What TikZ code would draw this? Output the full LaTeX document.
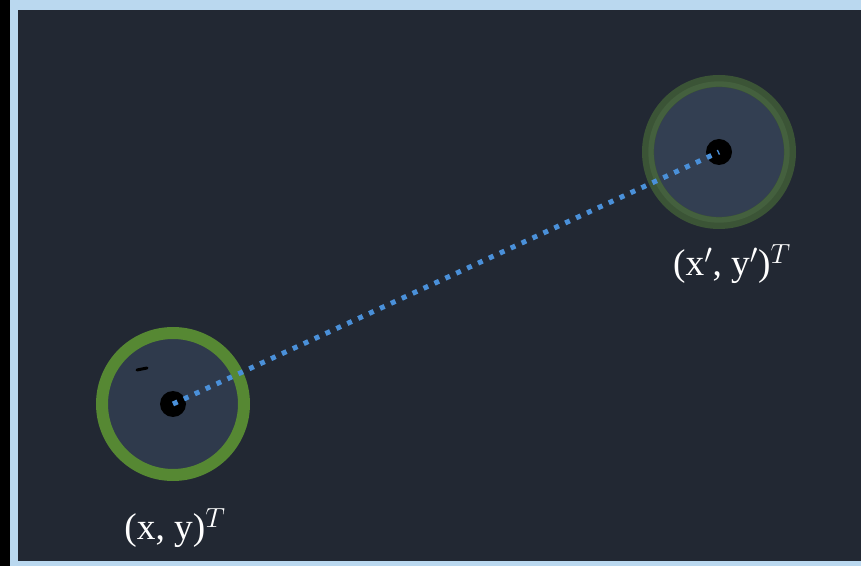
\documentclass[tikz,border=0pt]{standalone}
\usepackage{amsmath}
\usepackage{fontspec}
\usepackage{xcolor}
\usepackage{tikz}
\setmainfont{Liberation Serif}
\definecolor{pxedge}{HTML}{000000}
\definecolor{pxframe}{HTML}{BAD8EF}
\definecolor{pxback}{HTML}{222833}
\definecolor{pxwell}{HTML}{2F3A4C}
\definecolor{pxwellb}{HTML}{333F52}
\definecolor{pxgreen}{HTML}{568833}
\definecolor{pxmoss}{HTML}{3B5436}
\definecolor{pxmossb}{HTML}{44603E}
\definecolor{pxblue}{HTML}{4A90D9}

\begin{document}
\begin{tikzpicture}[x=0.75pt, y=-0.75pt]
  \useasboundingbox (0,0) rectangle (861,566);
  \fill[pxedge] (0,0) rectangle (10,566);
  \fill[pxframe] (10,0) rectangle (861,566);
  \fill[pxback] (18,10) rectangle (861,561);
  % the two positions
  \node[draw=pxgreen, line width=9pt, fill=pxwell, circle, inner sep=0pt, minimum size=106.5pt] (ringa) at (173,404) {};
  \node[draw=pxmoss, line width=9pt, fill=pxwellb, circle, inner sep=0pt, minimum size=106.5pt] (ringb) at (719,152) {};
  \draw[pxmossb, line width=4pt] (ringb.center) circle (68);
  \draw[pxedge, line width=2.25pt, line cap=round] (137,370) -- (147,368);
  \node[fill=pxedge, circle, inner sep=0pt, minimum size=19.5pt] (pa) at (173,404) {};
  \node[fill=pxedge, circle, inner sep=0pt, minimum size=19.5pt] (pb) at (719,152) {};
  \draw[pxblue, line width=3.75pt, dash pattern=on 3.75pt off 5.25pt] (pa.center) -- (pb.center);
  % labels
  \node[text=white, inner sep=0pt] (la) at (175,528) {\fontsize{28}{32}\selectfont(x, y)$^{T}$};
  \node[text=white, inner sep=0pt] (lb) at (732,264) {\fontsize{28}{32}\selectfont(x$'$, y$'$)$^{T}$};
\end{tikzpicture}
\end{document}
